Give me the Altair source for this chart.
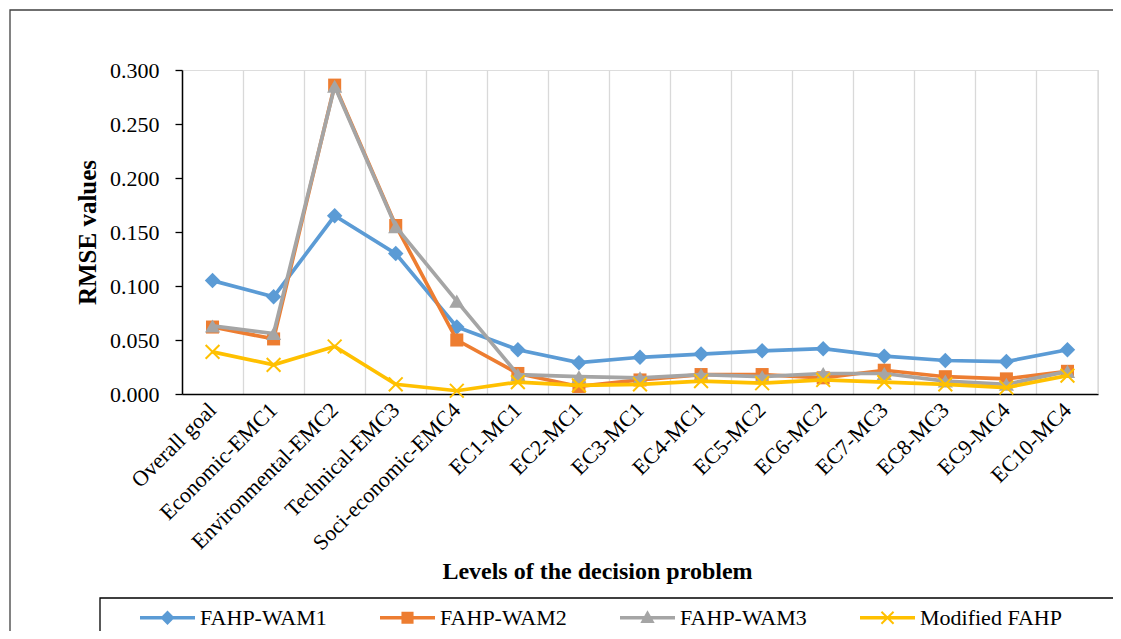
import altair as alt
import pandas as pd

categories = ["Overall goal", "Economic-EMC1", "Environmental-EMC2", "Technical-EMC3",
              "Soci-economic-EMC4", "EC1-MC1", "EC2-MC1", "EC3-MC1", "EC4-MC1",
              "EC5-MC2", "EC6-MC2", "EC7-MC3", "EC8-MC3", "EC9-MC4", "EC10-MC4"]
series_names = ["FAHP-WAM1", "FAHP-WAM2", "FAHP-WAM3", "Modified FAHP"]
wam1 = [0.105, 0.090, 0.165, 0.130, 0.062, 0.041, 0.029, 0.034, 0.037, 0.040, 0.042, 0.035, 0.031, 0.030, 0.041]
wam2 = [0.062, 0.051, 0.286, 0.156, 0.050, 0.019, 0.007, 0.013, 0.018, 0.018, 0.015, 0.022, 0.016, 0.014, 0.021]
wam3 = [0.063, 0.056, 0.285, 0.155, 0.086, 0.018, 0.016, 0.015, 0.018, 0.016, 0.019, 0.019, 0.012, 0.009, 0.021]
modified = [0.039, 0.027, 0.044, 0.009, 0.003, 0.011, 0.008, 0.009, 0.012, 0.010, 0.013, 0.011, 0.009, 0.006, 0.017]
y_ticks = [0.0, 0.05, 0.10, 0.15, 0.20, 0.25, 0.30]

colors = ["#5B9BD5", "#ED7D31", "#A5A5A5", "#FFC000"]

rows = []
for name, vals in zip(series_names, [wam1, wam2, wam3, modified]):
    for c, v in zip(categories, vals):
        rows.append({"level": c, "series": name, "rmse": v})
df = pd.DataFrame(rows)

W, H = 916, 324
FONT = "Liberation Serif"


def poly(pts):
    area = 0.0
    for i in range(len(pts)):
        x1, y1 = pts[i]
        x2, y2 = pts[(i + 1) % len(pts)]
        area += x1 * y2 - x2 * y1
    if area < 0:
        pts = pts[::-1]
    return "M" + "L".join(f"{x:.3f},{y:.3f}" for x, y in pts) + "Z"


def seg(p, q, h):
    dx, dy = q[0] - p[0], q[1] - p[1]
    ln = (dx * dx + dy * dy) ** 0.5
    nx, ny = -dy / ln * h, dx / ln * h
    return poly([(p[0] + nx, p[1] + ny), (q[0] + nx, q[1] + ny),
                 (q[0] - nx, q[1] - ny), (p[0] - nx, p[1] - ny)])


t = 0.065
line_path = poly([(-1, -t), (1, -t), (1, t), (-1, t)])
legend_paths = [
    line_path + poly([(0, -0.26), (0.26, 0), (0, 0.26), (-0.26, 0)]),
    line_path + poly([(-0.22, -0.22), (0.22, -0.22), (0.22, 0.22), (-0.22, 0.22)]),
    line_path + poly([(0, -0.27), (0.26, 0.19), (-0.26, 0.19)]),
    line_path + seg((-0.22, -0.22), (0.22, 0.22), 0.035) + seg((-0.22, 0.22), (0.22, -0.22), 0.035),
]

x_enc = alt.X(
    "level:N", sort=categories, bandPosition=0.5,
    scale=alt.Scale(type="band", paddingInner=0, paddingOuter=0),
    axis=alt.Axis(
        title="Levels of the decision problem", bandPosition=0, grid=True,
        gridColor="#D9D9D9", gridWidth=1.3, ticks=False, domainColor="#000000",
        domainWidth=1.5, labelAngle=-45, labelAlign="right", labelBaseline="middle",
        labelPadding=12, labelFont=FONT, labelFontSize=22,
        labelColor="#000000", labelLimit=400, titleFont=FONT, titleFontSize=24,
        titleFontWeight="bold", titleColor="#000000", titleX=415, titleY=184,
        titleAlign="center", titleBaseline="alphabetic"))
y_enc = alt.Y(
    "rmse:Q", scale=alt.Scale(domain=[0, 0.3], nice=False),
    axis=alt.Axis(
        title="RMSE values", values=y_ticks, format=".3f", grid=False, tickSize=7,
        tickColor="#000000", tickWidth=1.3, domainColor="#000000", domainWidth=1.5,
        labelFont=FONT, labelFontSize=22, labelColor="#000000", labelPadding=16,
        titleFont=FONT, titleFontSize=25, titleFontWeight="bold", titleColor="#000000",
        titleAngle=-90, titleX=-87, titleY=H / 2, titleAlign="center",
        titleBaseline="alphabetic"))

base = alt.Chart(df)
one = alt.Chart(pd.DataFrame({"k": [0]}))

frame = one.mark_rect(fillOpacity=0, stroke="#404040", strokeWidth=1.3).encode(
    x=alt.value(-172), x2=alt.value(1000), y=alt.value(-60), y2=alt.value(800))
legend_frame = one.mark_rect(fillOpacity=0, stroke="#000000", strokeWidth=1.3).encode(
    x=alt.value(-82), x2=alt.value(990), y=alt.value(528), y2=alt.value(700))
right_grid = one.mark_rule(color="#D9D9D9", strokeWidth=1.3).encode(
    x=alt.value(W), y=alt.value(0), y2=alt.value(H))

shapes = ["diamond", "square", "triangle-up", "M-1,-1L1,1M-1,1L1,-1"]
sizes = [240, 170, 230, 190]
layers = []
for name, col, shp, sz in zip(series_names, colors, shapes, sizes):
    sub = base.transform_filter(alt.datum.series == name)
    line = sub.mark_line(strokeWidth=3.7, color=col).encode(x=x_enc, y=y_enc)
    if shp.startswith("M"):
        pts = sub.mark_point(shape=shp, filled=False, size=sz, strokeWidth=2, opacity=1, color=col)
    else:
        pts = sub.mark_point(shape=shp, filled=True, size=sz, opacity=1, color=col)
    pts = pts.encode(x=x_enc, y=y_enc)
    layers += [line, pts]

leg = alt.Legend(title=None, orient="none", legendX=-42, legendY=520, direction="horizontal",
                 columns=4, gridAlign="all", columnPadding=38, padding=0,
                 symbolSize=3025, symbolStrokeWidth=0, labelFont=FONT, labelFontSize=22,
                 labelColor="#000000", labelOffset=5, labelLimit=400)
# legend-only layer: its marks sit outside the clipped plot area, only the legend shows
dummy = base.transform_filter(alt.datum.level == categories[0]).mark_point(
    filled=True, opacity=1, clip=True).encode(
    x=alt.value(-3000), y=alt.value(-3000),
    fill=alt.Fill("series:N", scale=alt.Scale(domain=series_names, range=colors), legend=leg),
    shape=alt.Shape("series:N", scale=alt.Scale(domain=series_names, range=legend_paths), legend=leg),
)

chart = alt.layer(frame, legend_frame, right_grid, *layers, dummy).properties(
    width=W, height=H,
    autosize=alt.AutoSizeParams(type="none"),
    padding={"left": 174, "top": 62, "right": 15, "bottom": 237},
).configure_view(stroke=None).configure_legend(
    labelFont=FONT, labelFontSize=22, labelColor="#000000"
).configure(background="#ffffff")

chart.save("out.html", embed_options={"renderer": "svg", "actions": False})
